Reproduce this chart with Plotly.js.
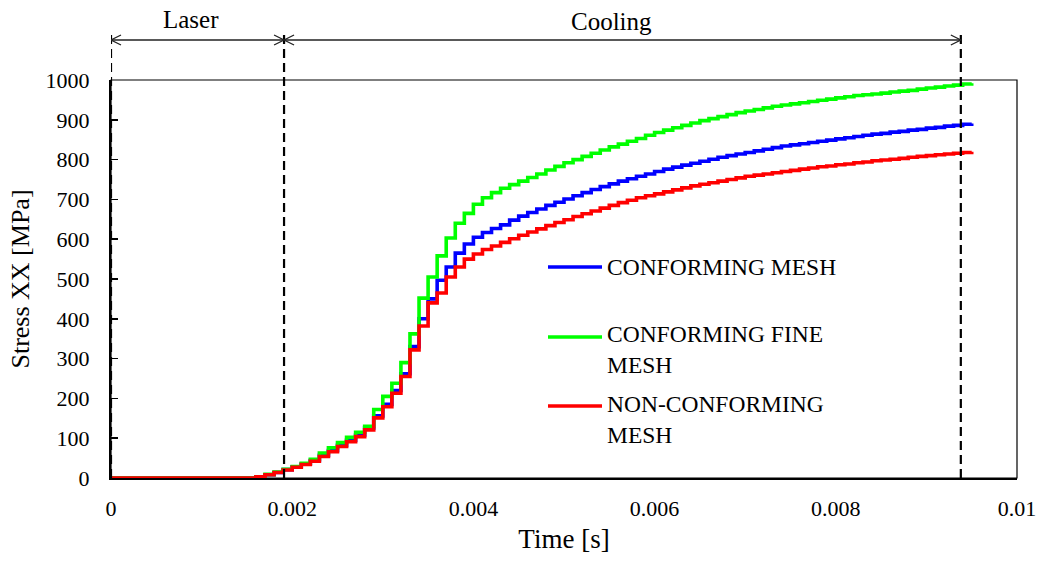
<!DOCTYPE html>
<html>
<head>
<meta charset="utf-8">
<script src="https://cdn.plot.ly/plotly-3.0.1.min.js"></script>
<style>
  html, body { margin: 0; padding: 0; background: #ffffff; }
  #chart { width: 1040px; height: 562px; }
</style>
</head>
<body>
<div id="chart"></div>
<script>
// ---- data ----
var timeS = [0, 0.0005, 0.001, 0.0015,
  0.0016, 0.0017, 0.0018, 0.0019, 0.0020, 0.0021, 0.0022, 0.0023, 0.0024, 0.0025,
  0.0026, 0.0027, 0.0028, 0.0029, 0.0030, 0.0031, 0.0032, 0.0033, 0.0034, 0.0035,
  0.0036, 0.0037, 0.0038, 0.0039, 0.0040, 0.0041, 0.0042, 0.0043, 0.0044, 0.0045,
  0.0046, 0.0047, 0.0048, 0.0049, 0.0050, 0.0051, 0.0052, 0.0053, 0.0054, 0.0055,
  0.0056, 0.0057, 0.0058, 0.0059, 0.0060, 0.0061, 0.0062, 0.0063, 0.0064, 0.0065,
  0.0066, 0.0067, 0.0068, 0.0069, 0.0070, 0.0071, 0.0072, 0.0073, 0.0074, 0.0075,
  0.0076, 0.0077, 0.0078, 0.0079, 0.0080, 0.0081, 0.0082, 0.0083, 0.0084, 0.0085,
  0.0086, 0.0087, 0.0088, 0.0089, 0.0090, 0.0091, 0.0092, 0.0093, 0.0094, 0.0095];

var conformingMesh = [0, 0, 0, 0,
  3, 8, 14, 21, 28, 35, 44, 57, 69, 82,
  95, 108, 126, 156, 185, 220, 262, 330, 400, 450,
  497, 530, 565, 588, 605, 617, 627, 636, 648, 658,
  667, 676, 685, 693, 701, 709, 717, 725, 732, 739,
  746, 752, 758, 764, 770, 776, 781, 786, 791, 796,
  801, 806, 810, 814, 818, 822, 826, 830, 834, 837,
  840, 843, 846, 849, 852, 855, 858, 861, 864, 866,
  869, 871, 874, 876, 879, 881, 884, 886, 889, 891];

var conformingFineMesh = [0, 0, 0, 0,
  3, 9, 15, 22, 29, 37, 47, 63, 76, 89,
  102, 115, 130, 172, 205, 238, 290, 362, 452, 505,
  558, 603, 640, 665, 688, 704, 717, 728, 737, 746,
  755, 764, 774, 783, 792, 800, 808, 816, 824, 832,
  839, 846, 853, 861, 868, 874, 880, 886, 892, 898,
  903, 908, 913, 918, 922, 926, 930, 934, 937, 940,
  943, 946, 949, 952, 955, 958, 961, 963, 965, 967,
  970, 972, 974, 977, 980, 982, 985, 987, 990, 992];

var nonConformingMesh = [0, 0, 0, 0,
  3, 8, 14, 20, 27, 34, 42, 54, 66, 79,
  91, 104, 121, 151, 179, 213, 255, 322, 382, 440,
  465, 505, 530, 550, 563, 574, 583, 592, 601, 610,
  618, 626, 634, 642, 649, 657, 664, 671, 678, 685,
  692, 698, 704, 709, 714, 719, 724, 729, 734, 738,
  742, 746, 750, 754, 758, 761, 764, 767, 770, 773,
  776, 779, 782, 784, 787, 789, 792, 794, 797, 799,
  801, 803, 806, 808, 810, 812, 814, 816, 818, 820];

var seriesNames = ["CONFORMING MESH", "CONFORMING FINE MESH", "NON-CONFORMING MESH"];
var legendLabels = ["CONFORMING MESH", "CONFORMING FINE<br>MESH", "NON-CONFORMING<br>MESH"];
var seriesColors = ["#0000ff", "#00ff00", "#ff0000"];

var xTickVals = [0, 0.002, 0.004, 0.006, 0.008, 0.01];
var xTickText = ["0", "0.002", "0.004", "0.006", "0.008", "0.01"];
var yTickVals = [0, 100, 200, 300, 400, 500, 600, 700, 800, 900, 1000];

// phase boundaries (s)
var laserStart = 0, laserEnd = 0.00191, coolingEnd = 0.00938;
var phaseLabels = ["Laser", "Cooling"];

// ---- drawing ----
var FONT = "Liberation Serif, Times New Roman, serif";
var seriesValues = [conformingMesh, conformingFineMesh, nonConformingMesh];

var traces = seriesValues.map(function (vals, i) {
  return {
    x: timeS, y: vals, name: seriesNames[i], type: "scatter", mode: "lines",
    line: { color: seriesColors[i], width: 3.6, shape: "hv" },
    showlegend: false, hoverinfo: "x+y+name"
  };
});

// geometry helpers (plot area size in px)
var plotW = 1040 - 111 - 23, plotH = 562 - 80 - 84;
var xRange = [0, 0.01];
function pxToDX(px) { return px * (xRange[1] - xRange[0]) / plotW; }
function pyToPaper(py) { return (478 - py) / plotH; }

var arrowY = pyToPaper(40);
var headDX = pxToDX(10), headDY = 5 / plotH;

function vhead(x, dir) { // dir = -1 points left, +1 points right
  var bx = x - dir * headDX;
  return "M" + bx + "," + (arrowY + headDY) + " L" + x + "," + arrowY + " L" + bx + "," + (arrowY - headDY);
}

var shapes = [
  { type: "rect", xref: "paper", yref: "paper", x0: 0, x1: 1, y0: 0, y1: 1,
    line: { color: "#000", width: 1.2 }, layer: "below" }
];
[laserStart, laserEnd, coolingEnd].forEach(function (t) {
  shapes.push({ type: "line", xref: "x", yref: "paper", x0: t, x1: t, y0: 0, y1: pyToPaper(32),
    line: { color: "#000", width: 2.2, dash: "9px,5px" } });
});
shapes.push({ type: "line", xref: "x", yref: "paper", x0: laserStart, x1: laserEnd, y0: arrowY, y1: arrowY,
  line: { color: "#222", width: 1.3 } });
shapes.push({ type: "line", xref: "x", yref: "paper", x0: laserEnd, x1: coolingEnd, y0: arrowY, y1: arrowY,
  line: { color: "#222", width: 1.3 } });
[[laserStart, -1], [laserEnd, 1], [laserEnd, -1], [coolingEnd, 1]].forEach(function (h) {
  shapes.push({ type: "path", xref: "x", yref: "paper", path: vhead(h[0], h[1]),
    line: { color: "#222", width: 1.3 } });
});

// custom legend (samples + labels)
var legendY = [pyToPaper(267), pyToPaper(337), pyToPaper(406)];
var legendTextY = [pyToPaper(267), pyToPaper(349.5), pyToPaper(419)];
var annotations = [];
seriesNames.forEach(function (n, i) {
  shapes.push({ type: "line", xref: "paper", yref: "paper",
    x0: (548 - 111) / plotW, x1: (602 - 111) / plotW, y0: legendY[i], y1: legendY[i],
    line: { color: seriesColors[i], width: 3.6 } });
  annotations.push({ xref: "paper", yref: "paper", x: (605 - 111) / plotW, y: legendTextY[i],
    xanchor: "left", yanchor: "middle", align: "left", showarrow: false, text: legendLabels[i],
    font: { family: FONT, size: 23.5, color: "#000" } });
});
annotations.push({ xref: "x", yref: "paper", x: 0.000883, y: pyToPaper(19), text: phaseLabels[0],
  showarrow: false, xanchor: "center", yanchor: "middle", font: { family: FONT, size: 25, color: "#000" } });
annotations.push({ xref: "x", yref: "paper", x: 0.00552, y: pyToPaper(22), text: phaseLabels[1],
  showarrow: false, xanchor: "center", yanchor: "middle", font: { family: FONT, size: 25, color: "#000" } });

var layout = {
  width: 1040, height: 562,
  margin: { l: 111, r: 23, t: 80, b: 84, pad: 0 },
  paper_bgcolor: "#ffffff", plot_bgcolor: "#ffffff",
  font: { family: FONT, color: "#000", size: 22 },
  showlegend: false,
  xaxis: {
    range: xRange, tickvals: xTickVals, ticktext: xTickText,
    showgrid: false, zeroline: false, showline: true, linecolor: "#000", linewidth: 2,
    ticks: "", ticklabelstandoff: 10,
    tickfont: { family: FONT, size: 22, color: "#000" },
    title: { text: "Time [s]", font: { family: FONT, size: 27, color: "#000" }, standoff: 9 }
  },
  yaxis: {
    range: [0, 1000], tickvals: yTickVals,
    showgrid: false, zeroline: false, showline: true, linecolor: "#000", linewidth: 2,
    ticks: "inside", ticklen: 7, tickwidth: 1.5, tickcolor: "#000", ticklabelstandoff: 15,
    tickfont: { family: FONT, size: 22, color: "#000" },
    title: { text: "Stress XX [MPa]", font: { family: FONT, size: 26, color: "#000" }, standoff: 8 }
  },
  shapes: shapes,
  annotations: annotations
};

Plotly.newPlot("chart", traces, layout, { displayModeBar: false, staticPlot: true });
</script>
</body>
</html>
